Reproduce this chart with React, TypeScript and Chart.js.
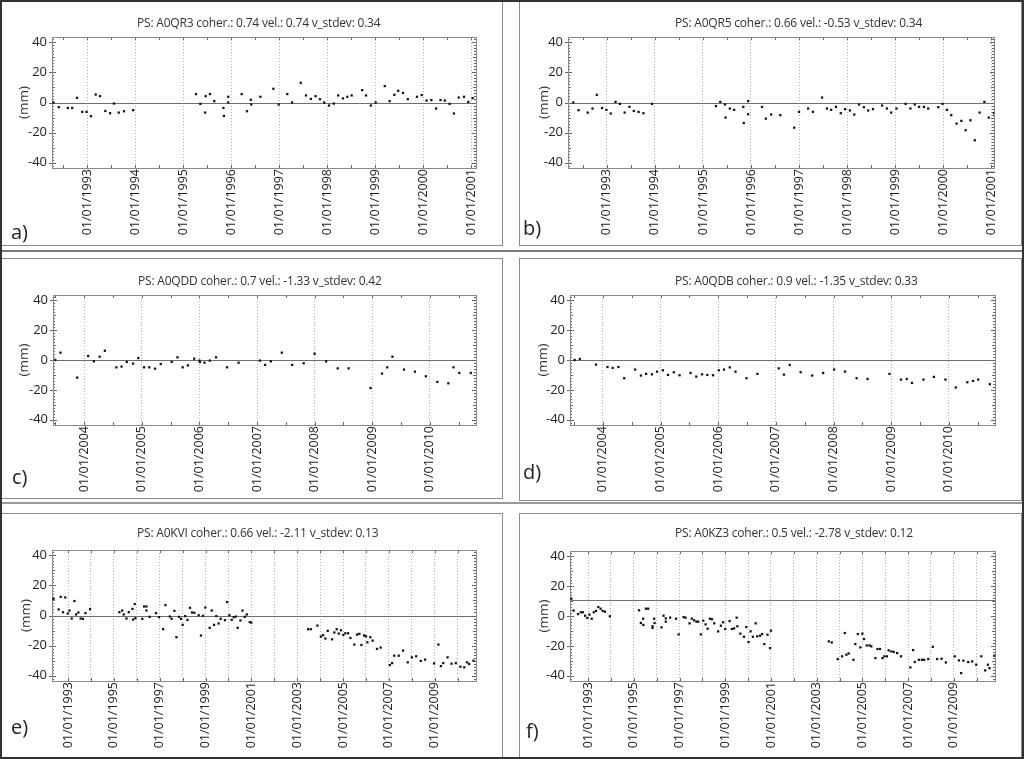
import React, { useEffect, useRef } from 'react';
import { Chart, registerables } from 'chart.js';

Chart.register(...registerables);

type Pt = [number, number];

// ---------- data: [decimal year, displacement mm] ----------
const seriesA: Pt[] = [
  [1992.30, 0], [1992.41, -3.1], [1992.60, -3.6], [1992.69, -3.6], [1992.79, 3.1], [1992.90, -6.2], [1992.99, -6.2], [1993.08, -9.1],
  [1993.18, 5.3], [1993.27, 4.2], [1993.38, -5.6], [1993.48, -7.1], [1993.56, -0.7], [1993.66, -6.7], [1993.77, -5.8], [1993.96, -5.1],
  [1995.27, 5.6], [1995.36, -0.9], [1995.46, -6.7], [1995.47, 4.2], [1995.56, 5.6], [1995.65, 0.9], [1995.84, -3.6], [1995.85, -8.9],
  [1995.94, 3.8], [1995.94, 0], [1996.22, 5.6], [1996.33, -5.8], [1996.41, 1.8], [1996.42, -1.3], [1996.61, 3.8], [1996.88, 9.1],
  [1996.99, -1.3], [1997.17, 5.6], [1997.27, 0], [1997.45, 13.1], [1997.56, 4.7], [1997.66, 2.4], [1997.76, 4.2], [1997.85, 2.2],
  [1997.94, 0], [1998.04, -2.0], [1998.14, -0.7], [1998.23, 4.7], [1998.33, 2.7], [1998.42, 3.8], [1998.51, 4.7], [1998.73, 8.2],
  [1998.81, 4.7], [1998.91, -2.0], [1999.01, 0], [1999.20, 10.9], [1999.30, 0.9], [1999.40, 5.1], [1999.48, 7.8], [1999.58, 6.4],
  [1999.68, 2.2], [1999.87, 3.8], [1999.97, 4.9], [2000.07, 1.3], [2000.17, 1.6], [2000.27, -4.0], [2000.36, 1.6], [2000.45, 1.3],
  [2000.55, -0.9], [2000.64, -7.3], [2000.74, 3.3], [2000.85, 3.8], [2000.94, 0.4], [2001.03, 2.9],
];

const seriesB: Pt[] = [
  [1992.30, 0], [1992.41, -5.1], [1992.60, -6.7], [1992.70, -4.0], [1992.79, 5.1], [1992.90, -3.6], [1992.99, -4.9], [1993.08, -7.3],
  [1993.18, 0.4], [1993.27, -0.9], [1993.37, -6.7], [1993.47, -2.9], [1993.56, -5.6], [1993.66, -6.2], [1993.76, -7.1], [1993.94, -0.9],
  [1995.27, -2.4], [1995.36, 0.4], [1995.46, -1.3], [1995.47, -10.0], [1995.56, -4.0], [1995.65, -4.9], [1995.84, -2.9], [1995.85, -13.6],
  [1995.94, -7.8], [1995.94, 0.9], [1996.23, -2.9], [1996.31, -10.7], [1996.42, -8.0], [1996.61, -8.4], [1996.90, -16.7], [1997.00, -6.2],
  [1997.19, -4.0], [1997.29, -6.2], [1997.48, 3.3], [1997.58, -4.0], [1997.67, -4.9], [1997.77, -2.9], [1997.87, -7.1], [1997.96, -4.4],
  [1998.06, -5.3], [1998.15, -8.0], [1998.25, -1.3], [1998.35, -3.1], [1998.44, -5.3], [1998.54, -4.4], [1998.73, -2.0], [1998.83, -4.0],
  [1998.92, -6.7], [1999.03, -4.0], [1999.22, -0.9], [1999.32, -4.0], [1999.41, -1.3], [1999.50, -2.9], [1999.60, -2.9], [1999.69, -4.0],
  [1999.90, -3.1], [1999.99, -0.9], [2000.08, -4.9], [2000.17, -8.4], [2000.28, -14.0], [2000.38, -12.2], [2000.47, -18.4], [2000.57, -11.8],
  [2000.66, -25.1], [2000.76, -6.7], [2000.86, 0.4], [2000.95, -10.0], [2001.06, -7.1],
];

const seriesC: Pt[] = [
  [2003.50, 0], [2003.59, 4.9], [2003.88, -11.8], [2004.07, 2.7], [2004.17, -0.9], [2004.27, 2.2], [2004.36, 6.2], [2004.56, -4.9],
  [2004.65, -4.4], [2004.74, -1.3], [2004.85, -2.4], [2004.94, 1.3], [2005.04, -4.9], [2005.13, -4.9], [2005.23, -5.8], [2005.33, -2.7],
  [2005.52, -1.3], [2005.62, 1.8], [2005.71, -4.9], [2005.80, -3.6], [2005.91, 0.9], [2006.00, -0.4], [2006.01, -1.3], [2006.09, -1.8],
  [2006.18, -0.4], [2006.29, 1.8], [2006.48, -4.9], [2006.68, -1.8], [2007.05, -0.4], [2007.14, -3.3], [2007.24, -0.9], [2007.43, 4.9],
  [2007.61, -3.3], [2007.81, -2.2], [2008.00, 4.2], [2008.20, -0.9], [2008.40, -5.6], [2008.59, -5.6], [2008.97, -18.7], [2009.17, -9.1],
  [2009.26, -4.9], [2009.35, 2.2], [2009.55, -6.4], [2009.74, -7.8], [2009.93, -10.9], [2010.13, -14.7], [2010.32, -15.6], [2010.41, -4.9],
  [2010.51, -8.7], [2010.71, -8.7],
];

const seriesD: Pt[] = [
  [2003.51, 0], [2003.60, 0.7], [2003.88, -3.1], [2004.08, -4.7], [2004.17, -5.3], [2004.27, -4.7], [2004.37, -12.2], [2004.56, -6.4],
  [2004.66, -10.4], [2004.75, -9.3], [2004.85, -9.6], [2004.94, -7.8], [2005.04, -6.9], [2005.13, -10.0], [2005.23, -8.2], [2005.33, -10.2],
  [2005.52, -8.7], [2005.62, -11.1], [2005.72, -9.6], [2005.81, -10.0], [2005.91, -10.2], [2006.01, -6.9], [2006.10, -6.4], [2006.20, -4.9],
  [2006.30, -7.8], [2006.49, -12.2], [2006.68, -9.3], [2007.05, -5.6], [2007.14, -9.8], [2007.24, -3.3], [2007.43, -8.2], [2007.63, -10.4],
  [2007.82, -8.7], [2008.01, -6.4], [2008.20, -7.8], [2008.40, -12.2], [2008.59, -12.7], [2008.97, -9.3], [2009.17, -13.1], [2009.27, -12.7],
  [2009.36, -15.3], [2009.56, -13.1], [2009.74, -11.3], [2009.94, -13.1], [2010.12, -18.4], [2010.32, -14.9], [2010.42, -14.0], [2010.51, -13.1],
  [2010.71, -16.2],
];

const seriesE: Pt[] = [
  [1992.37, 11.1], [1992.59, 4.0], [1992.68, 12.4], [1992.78, 2.2], [1992.88, 12.0], [1992.99, 1.3], [1993.06, 3.3], [1993.16, -2.0],
  [1993.28, 9.6], [1993.35, 0.7], [1993.45, 2.0], [1993.55, -2.0], [1993.65, -2.2], [1993.76, 1.6], [1993.96, 4.2],
  [1995.24, 2.2], [1995.36, 3.3], [1995.43, 0.7], [1995.55, -2.0], [1995.65, 2.2], [1995.81, 4.4], [1995.84, -2.7], [1995.91, 7.6],
  [1995.94, -1.8], [1996.24, -2.2], [1996.32, 6.0], [1996.42, 6.0], [1996.42, 3.3], [1996.56, -0.9], [1996.84, 1.6], [1996.97, -1.1],
  [1997.15, -9.1], [1997.25, 6.9], [1997.44, -0.7], [1997.52, -2.2], [1997.64, 3.1], [1997.73, -14.4], [1997.84, -0.9], [1997.93, -2.2],
  [1998.00, -6.2], [1998.11, -0.4], [1998.21, -2.9], [1998.32, 5.1], [1998.41, 2.0], [1998.51, 1.8], [1998.70, 0.2], [1998.80, -13.3],
  [1998.89, -0.2], [1998.99, 5.3], [1999.18, -8.2], [1999.27, 3.3], [1999.37, -6.2], [1999.47, -0.4], [1999.57, -5.3], [1999.66, -2.2],
  [1999.85, -3.1], [1999.94, 8.9], [2000.04, 0.2], [2000.14, -2.9], [2000.23, -1.1], [2000.32, -0.7], [2000.40, -8.2], [2000.52, -3.3],
  [2000.61, 3.3], [2000.71, -0.9], [2000.80, 0.7], [2000.93, -4.4], [2001.00, -4.7],
  [2003.47, -9.1], [2003.59, -9.1], [2003.88, -6.7], [2004.03, -14.0], [2004.13, -13.1], [2004.23, -15.3], [2004.33, -10.2], [2004.52, -15.8],
  [2004.62, -11.3], [2004.72, -9.1], [2004.81, -12.0], [2004.91, -9.8], [2005.01, -12.9], [2005.10, -11.8], [2005.22, -11.8], [2005.32, -14.9],
  [2005.49, -19.3], [2005.61, -12.7], [2005.71, -12.2], [2005.80, -19.6], [2005.92, -13.3], [2006.00, -13.8], [2006.06, -17.8], [2006.19, -14.4],
  [2006.29, -16.7], [2006.48, -22.2], [2006.64, -21.3], [2007.04, -32.9], [2007.14, -31.6], [2007.23, -26.7], [2007.43, -26.7], [2007.62, -23.3],
  [2007.82, -31.1], [2008.00, -27.8], [2008.19, -27.1], [2008.39, -30.2], [2008.58, -29.3], [2008.97, -31.8], [2009.16, -19.3], [2009.27, -33.6],
  [2009.37, -31.6], [2009.56, -27.8], [2009.73, -32.0], [2009.92, -31.6], [2010.12, -34.0], [2010.29, -34.4], [2010.41, -31.1], [2010.50, -32.2],
  [2010.69, -30.0],
];

const seriesF: Pt[] = [
  [1992.27, 11.6], [1992.37, 3.6], [1992.56, 1.3], [1992.68, 2.5], [1992.77, 2.5], [1992.87, 0.2], [1992.97, -1.3], [1993.06, 0.9],
  [1993.16, -1.8], [1993.25, 2.5], [1993.35, 3.4], [1993.45, 6.0], [1993.55, 4.9], [1993.64, 3.4], [1993.74, 2.9], [1993.95, -0.2],
  [1995.23, 3.8], [1995.31, -4.7], [1995.41, -1.8], [1995.42, -6.0], [1995.53, 4.9], [1995.63, 4.9], [1995.82, -8.0], [1995.82, -6.9],
  [1995.89, -1.8], [1995.91, -4.7], [1996.21, -7.6], [1996.30, 0.2], [1996.40, -3.8], [1996.40, -1.6], [1996.59, -1.1], [1996.85, -1.8],
  [1996.96, -12.3], [1997.18, -0.7], [1997.26, -1.1], [1997.44, -4.9], [1997.54, -1.8], [1997.64, -2.9], [1997.74, -3.8], [1997.82, -3.8],
  [1997.93, -12.3], [1998.04, -3.1], [1998.14, -5.6], [1998.23, -8.5], [1998.33, -1.8], [1998.42, -2.2], [1998.52, -4.9], [1998.69, -10.3],
  [1998.81, -6.5], [1998.91, -4.2], [1999.00, -8.7], [1999.19, -3.4], [1999.29, -8.7], [1999.39, -8.3], [1999.50, -1.1], [1999.53, -6.9],
  [1999.66, -11.8], [1999.82, -13.9], [1999.92, -7.4], [2000.02, -17.4], [2000.11, -10.3], [2000.21, -13.9], [2000.33, -4.9], [2000.40, -13.6],
  [2000.52, -13.2], [2000.61, -12.1], [2000.71, -18.8], [2000.85, -12.5], [2000.96, -21.5], [2001.00, -9.8],
  [2003.53, -17.0], [2003.66, -17.7], [2003.92, -28.8], [2004.11, -27.0], [2004.23, -11.4], [2004.30, -25.9], [2004.40, -25.1], [2004.61, -29.3],
  [2004.69, -18.8], [2004.80, -12.1], [2004.91, -21.0], [2005.00, -11.8], [2005.07, -15.4], [2005.19, -19.7], [2005.31, -19.7], [2005.39, -20.3],
  [2005.57, -28.2], [2005.66, -22.1], [2005.77, -22.1], [2005.88, -28.2], [2005.96, -27.0], [2006.07, -27.0], [2006.15, -23.0], [2006.27, -23.7],
  [2006.37, -24.1], [2006.52, -24.8], [2006.69, -27.0], [2007.10, -34.4], [2007.22, -22.8], [2007.29, -30.8], [2007.47, -29.3], [2007.60, -29.3],
  [2007.70, -29.3], [2007.88, -28.8], [2008.08, -20.6], [2008.27, -28.8], [2008.46, -28.6], [2008.65, -31.1], [2009.04, -27.0], [2009.22, -29.7],
  [2009.32, -38.2], [2009.42, -29.9], [2009.63, -30.8], [2009.80, -30.4], [2009.98, -32.6], [2010.20, -27.0], [2010.37, -36.4], [2010.49, -32.6],
  [2010.56, -34.9], [2010.78, -26.6],
];

const panelTitles = [
  'PS: A0QR3 coher.: 0.74 vel.: 0.74 v_stdev: 0.34',
  'PS: A0QR5 coher.: 0.66 vel.: -0.53 v_stdev: 0.34',
  'PS: A0QDD coher.: 0.7 vel.: -1.33 v_stdev: 0.42',
  'PS: A0QDB coher.: 0.9 vel.: -1.35 v_stdev: 0.33',
  'PS: A0KVI coher.: 0.66 vel.: -2.11 v_stdev: 0.13',
  'PS: A0KZ3 coher.: 0.5 vel.: -2.78 v_stdev: 0.12',
];
const panelLetters = ['a)', 'b)', 'c)', 'd)', 'e)', 'f)'];
const yTickValues = [-40, -20, 0, 20, 40];
const yAxisTitle = '(mm)';
const years1993to2001 = [1993, 1994, 1995, 1996, 1997, 1998, 1999, 2000, 2001];
const years2004to2010 = [2004, 2005, 2006, 2007, 2008, 2009, 2010];
const years1993to2010 = [1993, 1994, 1995, 1996, 1997, 1998, 1999, 2000, 2001, 2002, 2003, 2004, 2005, 2006, 2007, 2008, 2009, 2010];
const labelYearsOdd = [1993, 1995, 1997, 1999, 2001, 2003, 2005, 2007, 2009];
const referenceLevels = [0, 0, 0, 0, 0, 10.6];

// ---------- layout / style ----------
const FONT = '"Open Sans", Lato, sans-serif';
const Y_MIN = -43.5;
const Y_MAX = 43.5;

interface PanelCfg {
  data: Pt[];
  title: string;
  letter: string;
  xMin: number;
  xMax: number;
  years: number[];
  labelYears: number[];
  minorStep: number;
  refLevel: number;
  box: { l: number; t: number; w: number; h: number };
  plot: { l: number; t: number; r: number; b: number };
  yTitleX: number;
  titlePos: { x: number; y: number };
  letterPos: { x: number; y: number };
}

const panels: PanelCfg[] = [
  {
    data: seriesA, title: panelTitles[0], letter: panelLetters[0], xMin: 1992.27, xMax: 2001.1,
    years: years1993to2001, labelYears: years1993to2001, minorStep: 0.5, refLevel: referenceLevels[0],
    box: { l: 1, t: 1, w: 502, h: 245 }, plot: { l: 52, t: 37, r: 476, b: 168 }, yTitleX: 24,
    titlePos: { x: 137, y: 23 }, letterPos: { x: 11, y: 220 },
  },
  {
    data: seriesB, title: panelTitles[1], letter: panelLetters[1], xMin: 1992.19, xMax: 2001.06,
    years: years1993to2001, labelYears: years1993to2001, minorStep: 0.5, refLevel: referenceLevels[1],
    box: { l: 519, t: 1, w: 503, h: 245 }, plot: { l: 568, t: 37, r: 994, b: 168 }, yTitleX: 544,
    titlePos: { x: 675, y: 23 }, letterPos: { x: 523, y: 216 },
  },
  {
    data: seriesC, title: panelTitles[2], letter: panelLetters[2], xMin: 2003.46, xMax: 2010.8,
    years: years2004to2010, labelYears: years2004to2010, minorStep: 0.5, refLevel: referenceLevels[2],
    box: { l: 1, t: 258, w: 502, h: 241 }, plot: { l: 53, t: 295, r: 476, b: 425 }, yTitleX: 24,
    titlePos: { x: 138, y: 281 }, letterPos: { x: 12, y: 465 },
  },
  {
    data: seriesD, title: panelTitles[3], letter: panelLetters[3], xMin: 2003.43, xMax: 2010.8,
    years: years2004to2010, labelYears: years2004to2010, minorStep: 0.5, refLevel: referenceLevels[3],
    box: { l: 519, t: 258, w: 503, h: 243 }, plot: { l: 570, t: 295, r: 995, b: 425 }, yTitleX: 543,
    titlePos: { x: 675, y: 281 }, letterPos: { x: 523, y: 460 },
  },
  {
    data: seriesE, title: panelTitles[4], letter: panelLetters[4], xMin: 1992.3, xMax: 2010.8,
    years: years1993to2010, labelYears: labelYearsOdd, minorStep: 1, refLevel: referenceLevels[4],
    box: { l: 1, t: 513, w: 502, h: 245 }, plot: { l: 52, t: 550, r: 476, b: 681 }, yTitleX: 26,
    titlePos: { x: 137, y: 533 }, letterPos: { x: 11, y: 715 },
  },
  {
    data: seriesF, title: panelTitles[5], letter: panelLetters[5], xMin: 1992.21, xMax: 2010.8,
    years: years1993to2010, labelYears: labelYearsOdd, minorStep: 1, refLevel: referenceLevels[5],
    box: { l: 519, t: 513, w: 503, h: 245 }, plot: { l: 570, t: 551, r: 995, b: 681 }, yTitleX: 544,
    titlePos: { x: 675, y: 533 }, letterPos: { x: 526, y: 719 },
  },
];

const Y_AXIS_W = 40;
const X_AXIS_H = 70;
const Y_TITLE_SIZE = 13.5;

function Panel({ p }: { p: PanelCfg }) {
  const ref = useRef<HTMLCanvasElement | null>(null);

  useEffect(() => {
    const canvas = ref.current;
    if (!canvas) return;
    const cl = p.plot.l - p.box.l;
    const ct = p.plot.t - p.box.t;
    const cr = p.plot.r - p.box.l;
    const cb = p.plot.b - p.box.t;
    const padL = cl - Y_AXIS_W;
    const padR = p.box.w - cr;
    const padT = ct;
    const padB = Math.max(0, p.box.h - cb - X_AXIS_H);
    const yTitlePad = (p.yTitleX - p.box.l) - padL - (Y_TITLE_SIZE * 1.2) / 2;

    const framePlugin = {
      id: 'panelFrame',
      beforeDatasetsDraw(chart: any) {
        const { ctx, chartArea: a } = chart;
        const xs = chart.scales.x;
        const ys = chart.scales.y;
        const line = (x1: number, y1: number, x2: number, y2: number) => {
          ctx.beginPath();
          ctx.moveTo(x1, y1);
          ctx.lineTo(x2, y2);
          ctx.stroke();
        };
        ctx.save();
        ctx.lineWidth = 1;
        ctx.setLineDash([]);
        // reference line
        ctx.strokeStyle = '#6f6f6f';
        const ry = Math.round(ys.getPixelForValue(p.refLevel)) + 0.5;
        line(a.left, ry, a.right, ry);
        // x minor ticks (inside)
        ctx.strokeStyle = '#666';
        const start = Math.ceil(p.xMin / p.minorStep) * p.minorStep;
        for (let v = start; v <= p.xMax + 1e-9; v += p.minorStep) {
          const x = Math.round(xs.getPixelForValue(v)) + 0.5;
          line(x, a.top, x, a.top + 3);
          line(x, a.bottom, x, a.bottom - 3);
        }
        // y minor ticks
        for (let v = -42; v <= 42; v += 2) {
          const y = Math.round(ys.getPixelForValue(v)) + 0.5;
          const len = v % 20 === 0 ? 4 : v % 10 === 0 ? 3 : 2;
          line(a.left - (v % 20 === 0 ? 3 : 0), y, a.left + len, y);
          line(a.right, y, a.right - len, y);
        }
        // frame
        ctx.strokeStyle = '#8a8a8a';
        ctx.strokeRect(Math.round(a.left) + 0.5, Math.round(a.top) + 0.5, Math.round(a.right - a.left), Math.round(a.bottom - a.top));
        ctx.restore();
      },
    };

    const chart = new Chart(canvas, {
      type: 'scatter',
      data: {
        datasets: [
          {
            data: p.data.map(([x, y]) => ({ x, y })),
            pointStyle: 'rect',
            pointRadius: 1.6,
            pointBorderWidth: 0,
            backgroundColor: '#111',
            borderColor: '#111',
          },
        ],
      },
      options: {
        responsive: false,
        animation: false,
        devicePixelRatio: 1,
        events: [],
        layout: { padding: { left: padL, right: padR, top: padT, bottom: padB } },
        plugins: { legend: { display: false }, tooltip: { enabled: false }, title: { display: false } },
        scales: {
          x: {
            type: 'linear',
            position: 'bottom',
            min: p.xMin,
            max: p.xMax,
            afterBuildTicks: (s: any) => {
              s.ticks = p.years.map((v) => ({ value: v }));
            },
            afterFit: (s: any) => {
              s.height = X_AXIS_H;
            },
            ticks: {
              autoSkip: false,
              minRotation: 90,
              maxRotation: 90,
              padding: 1,
              color: '#222',
              font: { family: FONT, size: 12.5 },
              callback: (v: any) => (p.labelYears.includes(Math.round(Number(v))) ? `01/01/${Math.round(Number(v))}` : ''),
            },
            grid: { color: '#b0b0b0', lineWidth: 1, drawTicks: false },
            border: { display: false, dash: [1, 2] },
          },
          y: {
            type: 'linear',
            min: Y_MIN,
            max: Y_MAX,
            afterBuildTicks: (s: any) => {
              s.ticks = yTickValues.map((v) => ({ value: v }));
            },
            afterFit: (s: any) => {
              s.width = Y_AXIS_W;
            },
            ticks: { padding: 5, color: '#222', font: { family: FONT, size: 13 } },
            grid: { display: false, drawTicks: false },
            border: { display: false },
            title: {
              display: true,
              text: yAxisTitle,
              color: '#333',
              font: { family: FONT, size: Y_TITLE_SIZE },
              padding: { top: yTitlePad, bottom: 0 },
            },
          },
        },
      },
      plugins: [framePlugin],
    } as any);
    return () => chart.destroy();
  }, [p]);

  return (
    <>
      <div
        style={{
          position: 'absolute', left: p.box.l, top: p.box.t, width: p.box.w, height: p.box.h,
          border: '1px solid #8c8c8c', boxSizing: 'border-box',
        }}
      />
      <canvas
        ref={ref}
        width={p.box.w}
        height={p.box.h}
        style={{ position: 'absolute', left: p.box.l, top: p.box.t, width: p.box.w, height: p.box.h }}
      />
      <div
        style={{
          position: 'absolute', left: p.titlePos.x, top: p.titlePos.y - 8, height: 16, lineHeight: '16px',
          fontFamily: FONT, fontSize: 12, letterSpacing: '-0.2px', color: '#333', whiteSpace: 'nowrap',
        }}
      >
        {p.title}
      </div>
      <div
        style={{
          position: 'absolute', left: p.letterPos.x, top: p.letterPos.y, lineHeight: '24px',
          fontFamily: FONT, fontSize: 20, color: '#222', whiteSpace: 'nowrap',
        }}
      >
        {p.letter}
      </div>
    </>
  );
}

export default function App() {
  return (
    <div style={{ position: 'absolute', left: 0, top: 0, width: 1024, height: 759, background: '#fff', overflow: 'hidden' }}>
      {panels.map((p, i) => (
        <Panel key={i} p={p} />
      ))}
      <div style={{ position: 'absolute', left: 0, top: 250, width: 1024, height: 2, background: '#7a7a7a' }} />
      <div style={{ position: 'absolute', left: 0, top: 502, width: 1024, height: 2, background: '#9a9a9a' }} />
      <div
        style={{
          position: 'absolute', left: 0, top: 0, width: 1024, height: 759,
          border: '2px solid #333', boxSizing: 'border-box', pointerEvents: 'none',
        }}
      />
    </div>
  );
}
